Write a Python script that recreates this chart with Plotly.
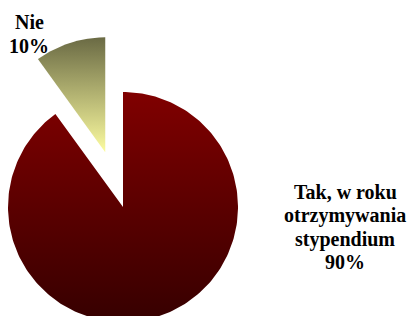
import numpy as np
import plotly.graph_objects as go

# ---- data ----
labels = ["Tak, w roku otrzymywania stypendium", "Nie"]
values = [90, 10]
label_lines = [["Tak, w roku", "otrzymywania", "stypendium"], ["Nie"]]
pulls = [0.0, 0.5]
top_colors = ["#800000", "#6a6a44"]
bottom_colors = ["#360000", "#fcfca0"]

# ---- layout constants (pixel space, y grows downward) ----
W, H = 409, 316
CX, CY, R = 123, 207, 115
label_centers_x = [345, 29]
label_first_baseline = [199, 29]
LINE_STEP = 23.3
FS = 20

fig = go.Figure()
total = sum(values)
start_deg = 0.0  # 12 o'clock, clockwise
for i, v in enumerate(values):
    span = v / total * 360.0
    a0, a1 = start_deg, start_deg + span
    mid = np.radians((a0 + a1) / 2)
    ox = CX + pulls[i] * R * np.sin(mid)
    oy = CY - pulls[i] * R * np.cos(mid)
    th = np.radians(np.linspace(a0, a1, 240))
    xs = np.concatenate([[ox], ox + R * np.sin(th), [ox]])
    ys = np.concatenate([[oy], oy - R * np.cos(th), [oy]])
    fig.add_trace(go.Scatter(
        x=xs, y=ys, mode="lines", fill="toself",
        line=dict(width=0, color="rgba(0,0,0,0)"),
        fillgradient=dict(type="vertical", start=float(ys.min()), stop=float(ys.max()),
                          colorscale=[[0, top_colors[i]], [1, bottom_colors[i]]]),
        hoverinfo="skip", showlegend=False, name=labels[i]))
    lines = label_lines[i] + [f"{v / total * 100:.0f}%"]
    for k, t in enumerate(lines):
        fig.add_annotation(
            x=label_centers_x[i], y=label_first_baseline[i] + k * LINE_STEP - 0.33 * FS,
            text=f"<b>{t}</b>", showarrow=False, xanchor="center", yanchor="middle",
            font=dict(family="Liberation Serif", size=FS, color="black"))
    start_deg = a1

fig.update_layout(
    width=W, height=H, margin=dict(l=0, r=0, t=0, b=0),
    paper_bgcolor="white", plot_bgcolor="white",
    xaxis=dict(range=[0, W], visible=False, fixedrange=True),
    yaxis=dict(range=[H, 0], visible=False, fixedrange=True),
)
fig.write_html("out.html", config={"displayModeBar": False},
               post_script="document.body.style.margin='0';document.body.style.overflow='hidden';")
